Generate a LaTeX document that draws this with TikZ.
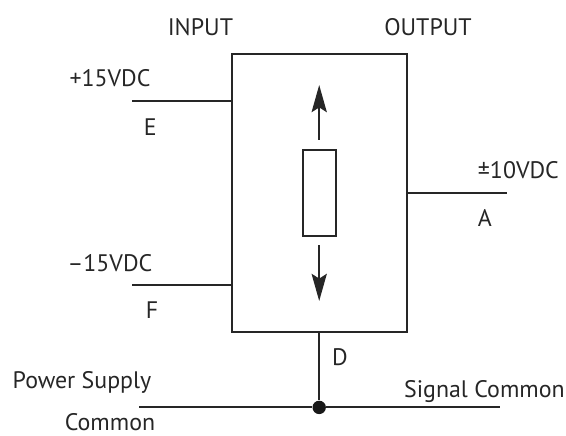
\documentclass[tikz,border=0pt]{standalone}
\usepackage{fontspec}
\setmainfont{PT Sans}
\usetikzlibrary{arrows.meta}

\tikzset{
    wire/.style = {line width = 0.05cm, draw = black!85},
    flow/.style = {wire, -{Stealth[length = 0.68cm, width = 0.38cm, inset = 0.12cm]}},
    lbl/.style = {inner sep = 0pt, font = \fontsize{17}{20}\selectfont, text = black!85}
}

\begin{document}
\begin{tikzpicture}
    \useasboundingbox (0, 0) rectangle (14.15, 10.875);

    \node [wire, shape = rectangle, minimum width = 4.375cm, minimum height = 6.95cm] (box) at (7.99, 6.05) {};
    \node [wire, shape = rectangle, minimum width = 0.825cm, minimum height = 2.15cm] (res) at (7.98, 6.05) {};

    \coordinate (upbegin) at (7.98, 7.38);
    \coordinate (upend) at (7.98, 8.75);
    \coordinate (downbegin) at (7.98, 4.75);
    \coordinate (downend) at (7.98, 3.35);
    \coordinate (plus) at (3.31, 8.36);
    \coordinate (minus) at (3.31, 3.74);
    \coordinate (out) at (12.68, 6.05);
    \coordinate (psc) at (3.48, 0.69);
    \coordinate (sigc) at (12.5, 0.69);
    \node [fill = black!90, shape = circle, minimum size = 0.335cm, inner sep = 0pt] (dot) at (7.98, 0.69) {};

    \node [lbl] (input) at (5.01, 10.2) {INPUT};
    \node [lbl] (output) at (10.7, 10.2) {OUTPUT};
    \node [lbl] (pos) at (2.75, 8.92) {+15VDC};
    \node [lbl] (E) at (3.76, 7.7) {E};
    \node [lbl] (neg) at (2.75, 4.3) {–15VDC};
    \node [lbl] (F) at (3.8, 3.12) {F};
    \node [lbl] (bipolar) at (12.96, 6.62) {±10VDC};
    \node [lbl] (A) at (12.12, 5.42) {A};
    \node [lbl] (D) at (8.5, 1.95) {D};
    \node [lbl, anchor = base] (supply) at (2.05, 1.175) {Power Supply};
    \node [lbl] (common) at (2.75, 0.32) {Common};
    \node [lbl, anchor = base] (signal) at (12.11, 0.95) {Signal Common};

    \draw [flow] (upbegin) -- (upend);
    \draw [flow] (downbegin) -- (downend);
    \draw [wire] (plus) -- (plus -| box.west);
    \draw [wire] (minus) -- (minus -| box.west);
    \draw [wire] (box.east) -- (out);
    \draw [wire] (dot |- box.south) -- (dot);
    \draw [wire] (psc) -- (dot);
    \draw [wire] (dot) -- (sigc);
\end{tikzpicture}
\end{document}
